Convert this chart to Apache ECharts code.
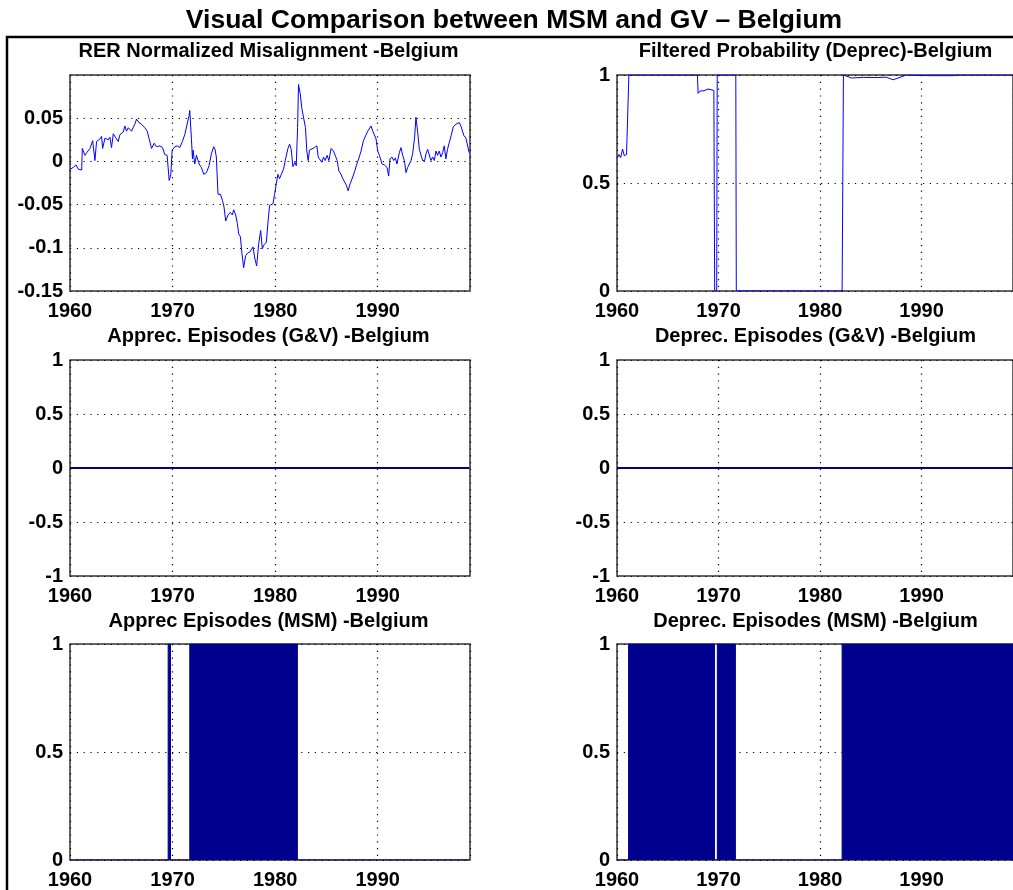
<!DOCTYPE html>
<html>
<head>
<meta charset="utf-8">
<script src="https://cdn.jsdelivr.net/npm/echarts@6/dist/echarts.min.js"></script>
<style>html,body{margin:0;padding:0;background:#fff}#c{width:1013px;height:890px}</style>
</head>
<body>
<div id="c"></div>
<script>
// ---------------- DATA ----------------
const mainTitle = 'Visual Comparison between MSM and GV \u2013 Belgium';
const panelTitles = [
  'RER Normalized Misalignment -Belgium',
  'Filtered Probability (Deprec)-Belgium',
  'Apprec. Episodes (G&V) -Belgium',
  'Deprec. Episodes (G&V) -Belgium',
  'Apprec Episodes (MSM) -Belgium',
  'Deprec. Episodes (MSM) -Belgium'
];
const xTickLabels = [1960, 1970, 1980, 1990];
const yTicksRER = [-0.15, -0.1, -0.05, 0, 0.05];
const yTicksProb = [0, 0.5, 1];
const yTicksEp = [-1, -0.5, 0, 0.5, 1];

const rerYears = [1960.00,1960.32,1960.58,1960.81,1961.14,1961.20,1961.46,1961.62,1961.95,1962.21,1962.43,1962.59,1962.92,1963.08,1963.18,1963.41,1963.73,1963.89,1964.05,1964.22,1964.48,1964.70,1964.87,1965.19,1965.35,1965.51,1965.68,1966.00,1966.16,1966.32,1966.49,1966.71,1966.97,1967.30,1967.53,1967.72,1967.95,1968.21,1968.43,1968.76,1969.02,1969.24,1969.47,1969.67,1969.83,1969.96,1970.22,1970.44,1970.70,1970.96,1971.19,1971.38,1971.61,1971.68,1971.84,1971.94,1972.00,1972.16,1972.33,1972.59,1972.81,1973.04,1973.30,1973.56,1973.79,1974.01,1974.14,1974.27,1974.43,1974.66,1974.86,1975.02,1975.18,1975.41,1975.63,1975.83,1975.96,1976.15,1976.32,1976.45,1976.61,1976.77,1976.93,1977.13,1977.32,1977.52,1977.71,1977.84,1978.03,1978.20,1978.39,1978.59,1978.75,1978.94,1979.14,1979.30,1979.46,1979.79,1979.95,1980.11,1980.27,1980.43,1980.60,1980.82,1981.02,1981.25,1981.41,1981.57,1981.73,1981.93,1982.06,1982.19,1982.28,1982.45,1982.61,1982.80,1982.96,1983.09,1983.22,1983.35,1983.52,1983.84,1984.07,1984.20,1984.39,1984.55,1984.72,1984.88,1985.07,1985.24,1985.46,1985.69,1985.88,1986.05,1986.21,1986.43,1986.60,1986.76,1986.92,1987.12,1987.31,1987.57,1987.77,1987.96,1988.15,1988.38,1988.61,1988.80,1989.03,1989.19,1989.35,1989.52,1989.68,1989.84,1990.00,1990.17,1990.43,1990.65,1990.91,1991.07,1991.20,1991.40,1991.56,1991.72,1991.88,1992.11,1992.27,1992.44,1992.60,1992.76,1992.92,1993.08,1993.25,1993.41,1993.60,1993.73,1993.89,1994.06,1994.22,1994.38,1994.58,1994.71,1994.87,1995.03,1995.19,1995.36,1995.52,1995.68,1995.84,1996.00,1996.17,1996.33,1996.49,1996.65,1996.81,1996.98,1997.17,1997.37,1997.63,1997.79,1997.95,1998.11,1998.27,1998.40,1998.60,1998.92];
const rerValues = [-0.009,-0.007,-0.004,-0.009,-0.010,0.015,0.007,0.010,0.015,0.024,0.001,0.023,0.026,0.029,0.015,0.027,0.025,0.028,0.016,0.032,0.027,0.023,0.031,0.034,0.041,0.035,0.039,0.035,0.039,0.043,0.049,0.045,0.043,0.039,0.035,0.037,0.015,0.021,0.017,0.018,0.016,0.008,0.007,-0.022,-0.015,0.013,0.017,0.018,0.016,0.023,0.031,0.032,0.053,0.059,0.026,0.003,0.013,-0.003,0.007,-0.003,-0.007,-0.015,-0.013,-0.005,0.009,0.017,0.014,0.005,-0.038,-0.038,-0.045,-0.053,-0.069,-0.062,-0.059,-0.062,-0.056,-0.062,-0.072,-0.084,-0.087,-0.107,-0.123,-0.109,-0.106,-0.105,-0.103,-0.099,-0.113,-0.121,-0.096,-0.080,-0.101,-0.096,-0.094,-0.071,-0.051,-0.049,-0.038,-0.026,-0.015,-0.020,-0.015,-0.009,0.003,0.015,0.020,0.014,-0.006,-0.001,-0.005,0.039,0.089,0.078,0.061,0.049,0.039,0.012,0.001,0.013,0.014,0.016,0.018,0.005,0.007,-0.001,0.005,0.001,0.007,0.001,0.015,0.012,0.010,0.001,-0.011,-0.015,-0.020,-0.018,-0.027,-0.034,-0.026,-0.018,-0.011,-0.003,0.003,0.012,0.024,0.026,0.035,0.037,0.041,0.035,0.034,0.026,0.012,0.007,-0.003,-0.004,-0.007,-0.017,0.003,0.005,0.001,0.004,-0.003,0.010,0.016,0.007,0.001,-0.013,-0.007,-0.008,0.001,0.009,0.028,0.051,0.035,0.014,0.012,0.001,0.001,0.009,0.014,0.014,0.001,0.005,0.001,0.012,0.007,0.012,0.005,0.010,0.018,0.003,0.014,0.022,0.030,0.040,0.043,0.041,0.045,0.041,0.043,0.030,0.027,0.010];

const probYears = [1960.00,1960.20,1960.36,1960.55,1960.72,1960.94,1961.11,1961.17,1967.92,1967.99,1968.18,1968.57,1968.96,1969.15,1969.54,1969.62,1969.82,1969.87,1971.70,1971.75,1982.17,1982.30,1983.10,1984.30,1985.60,1986.50,1987.20,1988.50,1990.60,1993.20,1993.50,1998.95];
const probValues = [0.614,0.632,0.617,0.657,0.626,0.632,0.629,1.0,1.0,0.915,0.926,0.927,0.935,0.926,0.929,0.0,0.0,1.0,1.0,0.0,0.0,1.0,0.986,0.989,0.988,0.990,0.978,1.0,0.997,0.997,1.0,1.0];

// episode intervals [start, end] (value 1 inside, 0 outside)
const gvApprecEpisodes = [];
const gvDeprecEpisodes = [];
const msmApprecEpisodes = [[1969.57, 1969.80], [1971.68, 1982.17]];
const msmDeprecEpisodes = [[1961.14, 1969.60], [1969.88, 1971.66], [1982.17, 1998.95]];
const sampleStart = 1960.0, sampleEnd = 1998.95;

// ---------------- CHART ----------------
const FONT = "'Liberation Sans', Arial, Helvetica, sans-serif";
const LINE_BLUE = '#0000ff';
const NAVY = '#00008f';

function pairs(xs, ys) { return xs.map((x, i) => [x, ys[i]]); }
function episodeData(eps) {
  const d = [[sampleStart, 0]];
  eps.forEach(([s, e]) => { d.push([s, 0], [s, 1], [e, 1], [e, 0]); });
  d.push([sampleEnd, 0]);
  return d;
}
function fmt(v) { return String(parseFloat(v.toFixed(2))); }

const gridPos = [
  {left: 70, top: 75}, {left: 617, top: 75},
  {left: 70, top: 360}, {left: 617, top: 360},
  {left: 70, top: 644}, {left: 617, top: 644}
];
const titleTops = [41, 41, 326, 326, 611, 611];
const yConf = [
  {min: -0.15, max: 0.1, interval: 0.05, ticks: yTicksRER},
  {min: 0, max: 1, interval: 0.5, ticks: yTicksProb},
  {min: -1, max: 1, interval: 0.5, ticks: yTicksEp},
  {min: -1, max: 1, interval: 0.5, ticks: yTicksEp},
  {min: 0, max: 1, interval: 0.5, ticks: yTicksProb},
  {min: 0, max: 1, interval: 0.5, ticks: yTicksProb}
];
const splitStyle = {show: true, lineStyle: {color: '#000', width: 1.2, type: [1.2, 5.6]}};
const labelFont = {color: '#000', fontFamily: FONT, fontSize: 20, fontWeight: 'bold'};

const option = {
  backgroundColor: '#fff',
  animation: false,
  title: [{
    text: mainTitle, left: 514, top: 7, textAlign: 'center', padding: 0,
    textStyle: {fontFamily: FONT, fontSize: 26.5, fontWeight: 'bold', color: '#000'}
  }].concat(panelTitles.map((t, i) => ({
    text: t, left: gridPos[i].left + 198.5, top: titleTops[i], textAlign: 'center', padding: 0,
    textStyle: {fontFamily: FONT, fontSize: 20, fontWeight: 'bold', color: '#000'}
  }))),
  graphic: [
    {type: 'line', shape: {x1: 6, y1: 37, x2: 1013, y2: 37}, style: {stroke: '#000', lineWidth: 2.5}, z: 100},
    {type: 'line', shape: {x1: 7, y1: 36, x2: 7, y2: 890}, style: {stroke: '#000', lineWidth: 2.5}, z: 100}
  ],
  grid: gridPos.map(g => ({left: g.left, top: g.top, width: 400, height: 216, show: true,
    borderColor: '#333', borderWidth: 1.5, backgroundColor: 'transparent', containLabel: false})),
  xAxis: gridPos.map((g, i) => ({
    type: 'value', gridIndex: i, min: 1960, max: 1999, interval: 10,
    axisLine: {show: false}, axisTick: {show: false}, splitLine: splitStyle,
    axisLabel: Object.assign({margin: 10, showMaxLabel: false,
      formatter: v => xTickLabels.indexOf(Math.round(v)) >= 0 && Math.abs(v - Math.round(v)) < 1e-6 ? String(Math.round(v)) : ''}, labelFont)
  })),
  yAxis: yConf.map((c, i) => ({
    type: 'value', gridIndex: i, min: c.min, max: c.max, interval: c.interval,
    axisLine: {show: false}, axisTick: {show: false}, splitLine: splitStyle,
    axisLabel: Object.assign({margin: 7, showMaxLabel: true,
      formatter: v => c.ticks.some(t => Math.abs(t - v) < 1e-9) ? fmt(v) : ''}, labelFont)
  })),
  series: [
    {type: 'line', xAxisIndex: 0, yAxisIndex: 0, data: pairs(rerYears, rerValues), showSymbol: false,
      lineStyle: {color: LINE_BLUE, width: 1}, itemStyle: {color: LINE_BLUE}},
    {type: 'line', xAxisIndex: 1, yAxisIndex: 1, data: pairs(probYears, probValues), showSymbol: false,
      lineStyle: {color: LINE_BLUE, width: 1}, itemStyle: {color: LINE_BLUE}},
    {type: 'line', xAxisIndex: 2, yAxisIndex: 2, data: episodeData(gvApprecEpisodes), showSymbol: false,
      lineStyle: {color: NAVY, width: 2}, itemStyle: {color: NAVY}},
    {type: 'line', xAxisIndex: 3, yAxisIndex: 3, data: episodeData(gvDeprecEpisodes), showSymbol: false,
      lineStyle: {color: NAVY, width: 2}, itemStyle: {color: NAVY}},
    {type: 'line', xAxisIndex: 4, yAxisIndex: 4, data: episodeData(msmApprecEpisodes), showSymbol: false,
      lineStyle: {color: NAVY, width: 1}, itemStyle: {color: NAVY}, areaStyle: {color: NAVY, opacity: 1}},
    {type: 'line', xAxisIndex: 5, yAxisIndex: 5, data: episodeData(msmDeprecEpisodes), showSymbol: false,
      lineStyle: {color: NAVY, width: 1}, itemStyle: {color: NAVY}, areaStyle: {color: NAVY, opacity: 1}}
  ]
};

const chart = echarts.init(document.getElementById('c'), null, {renderer: 'canvas'});
chart.setOption(option);
</script>
</body>
</html>
